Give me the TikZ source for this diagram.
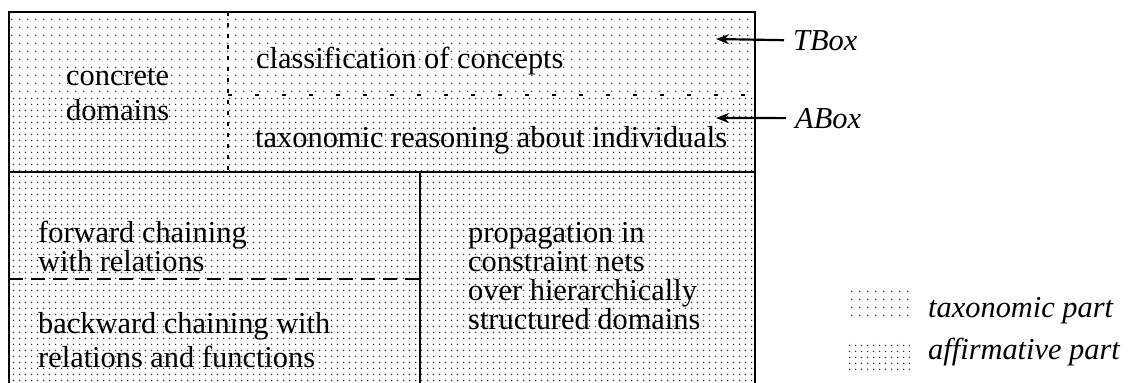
\documentclass[tikz,border=0pt]{standalone}
\usepackage{fontspec}
\setmainfont{Liberation Serif}
\usetikzlibrary{patterns.meta,arrows.meta}

% halftone screens for the two parts of the knowledge base
\tikzdeclarepattern{
  name=taxdots,
  type=uncolored,
  bottom left={(0pt,0pt)},
  top right={(8pt,8pt)},
  tile size={(8pt,8pt)},
  code={\fill (4pt,4pt) circle (0.9pt);}
}
\tikzdeclarepattern{
  name=affdots,
  type=uncolored,
  bottom left={(0pt,0pt)},
  top right={(5.5pt,5.5pt)},
  tile size={(5.5pt,5.5pt)},
  code={\fill (2.75pt,2.75pt) circle (0.85pt);}
}

\tikzset{
  txt/.style={inner sep=0pt, anchor=base west, text=black,
    font=\fontsize{30.4}{35}\selectfont},
  lbl/.style={txt, font=\fontsize{30.4}{35}\selectfont\itshape},
  frame/.style={line width=2.2pt, draw=black},
  taxonomic/.style={pattern=taxdots, pattern color=black!80},
  affirmative/.style={pattern=affdots, pattern color=black!80},
  vsep/.style={line width=2.6pt, draw=black, dash pattern=on 4pt off 7pt},
  hsep/.style={line width=2.6pt, draw=black, dash pattern=on 4pt off 23pt},
  lsep/.style={line width=1.8pt, draw=black, dash pattern=on 14pt off 8pt},
  pointer/.style={line width=2.2pt, draw=black,
    -{Stealth[length=13pt,width=10pt]}}
}

\begin{document}
\begin{tikzpicture}[x=1pt,y=-1pt]
\useasboundingbox (0,0) rectangle (1128,383);

% shaded regions
\fill[taxonomic] (9,12) rectangle (755,95);
\fill[affirmative] (9,95) rectangle (755,383);

% outer frame (open at the bottom edge of the page)
\draw[frame] (9,383) -- (9,12) -- (755,12) -- (755,383);
\draw[frame] (9,172) -- (755,172);
\draw[frame] (420,172) -- (420,383);

% TBox / ABox and concrete-domain separators
\draw[vsep] (228,12) -- (228,172);
\draw[hsep] (228,95) -- (755,95);
% forward / backward chaining separator
\draw[lsep] (9,279) -- (420,279);

% texts of the upper part
\node[txt] (conc1) at (66,85) {concrete};
\node[txt] (conc2) at (66,120) {domains};
\node[txt] (class) at (256,68) {classification of concepts};
\node[txt] (taxr) at (255,147) {taxonomic reasoning about individuals};

% texts of the lower left part
\node[txt] (fwd1) at (38,242) {forward chaining};
\node[txt] (fwd2) at (38,271) {with relations};
\node[txt] (bwd1) at (38,333) {backward chaining with};
\node[txt] (bwd2) at (38,367) {relations and functions};

% texts of the lower right part
\node[txt] (prop1) at (468,242) {propagation in};
\node[txt] (prop2) at (468,271) {constraint nets};
\node[txt] (prop3) at (468,300) {over hierarchically};
\node[txt] (prop4) at (468,329) {structured domains};

% TBox / ABox pointers
\node[lbl] (tbox) at (793,50) {TBox};
\node[lbl] (abox) at (795,128) {ABox};
\coordinate (ttip) at (716,39);
\coordinate (atip) at (716,118);
\draw[pointer] ([xshift=-9pt]tbox.west) -- (ttip);
\draw[pointer] ([xshift=-9pt]abox.west) -- (atip);

% legend
\fill[taxonomic] (845,290) rectangle (910,318);
\fill[affirmative] (845,340) rectangle (910,373);
\node[lbl] (ltax) at (928,317) {taxonomic part};
\node[lbl] (laff) at (928,359) {affirmative part};
\end{tikzpicture}
\end{document}
